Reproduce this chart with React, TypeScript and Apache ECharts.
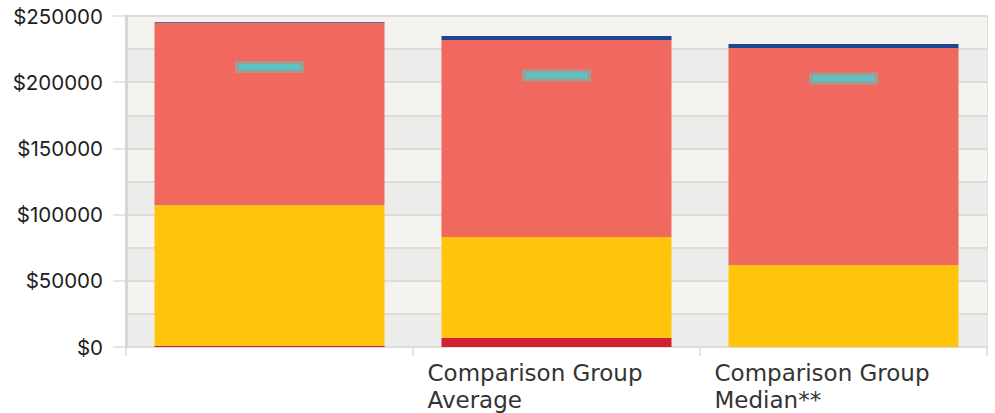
import React, { useEffect, useRef } from "react";
import * as echarts from "echarts";

const categories = ["", "Comparison Group\nAverage", "Comparison Group\nMedian**"];
const redValues = [1000, 7000, 0];
const yellowValues = [106000, 76000, 62000];
const salmonValues = [137700, 148900, 163900];
const blueValues = [600, 3000, 3000];
const markerValues = [211500, 205000, 202800];
const yMax = 250000;
const yBandStep = 25000;
const yLabelStep = 50000;

export default function App() {
  const ref = useRef<HTMLDivElement>(null);
  useEffect(() => {
    document.body.style.margin = "0";
    const chart = echarts.init(ref.current!, null, { renderer: "svg" });
    const barBase = { type: "bar", stack: "total", barWidth: 230, silent: true, yAxisIndex: 0 };
    chart.setOption({
      animation: false,
      grid: { left: 126, right: 8, top: 16, bottom: 66, containLabel: false },
      xAxis: {
        type: "category",
        data: categories,
        boundaryGap: true,
        axisLine: { show: true, lineStyle: { color: "#c9c6c0", width: 2 } },
        axisTick: { show: true, length: 9, lineStyle: { color: "#e3e2df", width: 2 } },
        axisLabel: {
          margin: 12,
          interval: 0,
          formatter: (v: string) =>
            v ? v.split("\n").map((l) => `{a|${l}}`).join("\n") : "",
          rich: {
            a: {
              width: 258,
              align: "left",
              fontFamily: "DejaVu Sans",
              fontSize: 23,
              lineHeight: 27,
              color: "#333333",
            },
          },
        },
        splitLine: { show: false },
      },
      yAxis: [
        {
          type: "value",
          min: 0,
          max: yMax,
          interval: yBandStep,
          position: "left",
          axisLine: { show: true, lineStyle: { color: "#d8d6d2", width: 3 } },
          axisTick: { show: false },
          axisLabel: { show: false },
          splitLine: { show: true, lineStyle: { color: "#dddcd9", width: 2 } },
          splitArea: { show: true, areaStyle: { color: ["#ecedeb", "#f4f3f0"] } },
          z: 1,
        },
        {
          type: "value",
          min: 0,
          max: yMax,
          interval: yLabelStep,
          position: "left",
          axisLine: { show: false },
          axisTick: { show: true, length: 13, lineStyle: { color: "#e6e5e2", width: 2 } },
          axisLabel: {
            margin: 23,
            fontFamily: "Inter",
            fontWeight: 400,
            fontSize: 20.5,
            color: "#1e1e1e",
            formatter: (v: number) => "$" + v,
          },
          splitLine: { show: false },
          splitArea: { show: false },
        },
        {
          type: "value",
          min: 0,
          max: yMax,
          interval: yBandStep,
          position: "right",
          axisLine: { show: true, lineStyle: { color: "#e0dfdc", width: 2 } },
          axisTick: { show: false },
          axisLabel: { show: false },
          splitLine: { show: false },
        },
      ],
      series: [
        { ...barBase, name: "red", data: redValues, itemStyle: { color: "#d0212f" } },
        { ...barBase, name: "yellow", data: yellowValues, itemStyle: { color: "#fec50c" } },
        { ...barBase, name: "salmon", data: salmonValues, itemStyle: { color: "#f1695e" } },
        { ...barBase, name: "blue", data: blueValues, itemStyle: { color: "#1b4690" } },
        {
          type: "scatter",
          name: "markerFrame",
          data: markerValues,
          symbol: "rect",
          symbolSize: [69, 12],
          z: 5,
          silent: true,
          itemStyle: { color: "#a39a93", opacity: 1 },
        },
        {
          type: "scatter",
          name: "marker",
          data: markerValues,
          symbol: "rect",
          symbolSize: [62, 6],
          z: 6,
          silent: true,
          itemStyle: { color: "#5bc4c3", opacity: 1 },
        },
      ],
    });
    return () => chart.dispose();
  }, []);
  return (
    <div
      ref={ref}
      style={{ position: "absolute", left: 0, top: 0, width: 995, height: 413 }}
    />
  );
}
